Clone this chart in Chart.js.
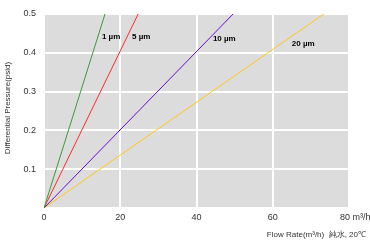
<!DOCTYPE html>
<html>
<head>
<meta charset="utf-8">
<script src="https://cdn.jsdelivr.net/npm/chart.js@4/dist/chart.umd.min.js"></script>
<style>
  html, body { margin: 0; padding: 0; background: #fff; }
  #wrap { width: 370px; height: 245px; }
</style>
</head>
<body>
<div id="wrap"><canvas id="chart" width="370" height="245"></canvas></div>
<script>
// filter curves: flow rate (m3/h) vs differential pressure (psid)
const seriesNames = ["1 µm", "5 µm", "10 µm", "20 µm"];
const seriesColors = ["#3c9a3c", "#ff2a2a", "#6a0acc", "#ffc61a"];
const flow1 = [0, 16];
const flow5 = [0, 24.7];
const flow10 = [0, 49.6];
const flow20 = [0, 73.4];
const pressure = [0, 0.5];
const xTicks = [0, 20, 40, 60, 80];
const yTicks = [0.1, 0.2, 0.3, 0.4, 0.5];
// where each curve's label sits (flow, pressure)
const labelFlow = [15.2, 23.1, 44.3, 65.0];
const labelPressure = [0.441, 0.441, 0.436, 0.423];
const xTitle = "Flow Rate(m³/h)  純水, 20℃";
const yTitle = "Differential Pressure(psid)";
const lastTickText = "80 m³/h";

const flows = [flow1, flow5, flow10, flow20];
const FONT = "'Liberation Sans', Arial, sans-serif";

const datasets = flows.map((f, i) => ({
  label: seriesNames[i],
  data: f.map((x, j) => ({ x: x, y: pressure[j] })),
  borderColor: seriesColors[i],
  borderWidth: 1,
  pointRadius: 0,
  showLine: true,
  fill: false
}));

const plotBg = {
  id: "plotBg",
  beforeDraw(chart) {
    const { ctx, chartArea: a } = chart;
    ctx.save();
    ctx.fillStyle = "#dcdcdc";
    ctx.fillRect(a.left, a.top, a.right - a.left, a.bottom - a.top);
    ctx.restore();
  },
  afterDraw(chart) {
    const ctx = chart.ctx;
    const xs = chart.scales.x, ys = chart.scales.y;
    ctx.save();
    ctx.font = "bold 8px " + FONT;
    ctx.fillStyle = "#000";
    ctx.textBaseline = "middle";
    seriesNames.forEach((n, i) => {
      ctx.fillText(n, xs.getPixelForValue(labelFlow[i]), ys.getPixelForValue(labelPressure[i]));
    });
    // last x tick carries the unit, left aligned just before the axis end
    ctx.font = "9px " + FONT;
    ctx.fillStyle = "#333";
    ctx.fillText(lastTickText, xs.getPixelForValue(80) - 9, 218);
    // axis titles
    ctx.font = "8px " + FONT;
    ctx.textAlign = "right";
    ctx.fillText(xTitle, 366, 235);
    ctx.translate(8, 108);
    ctx.rotate(-Math.PI / 2);
    ctx.textAlign = "center";
    ctx.fillText(yTitle, 0, 0);
    ctx.restore();
  }
};

new Chart(document.getElementById("chart"), {
  type: "scatter",
  data: { datasets: datasets },
  options: {
    responsive: false,
    animation: false,
    layout: { padding: { top: 14, right: 21, left: 0, bottom: 0 } },
    plugins: {
      legend: { display: false },
      tooltip: { enabled: false }
    },
    scales: {
      x: {
        type: "linear",
        min: 0,
        max: 80,
        afterBuildTicks: (s) => { s.ticks = xTicks.map(v => ({ value: v })); },
        afterFit: (s) => { s.height = 37; },
        grid: { color: "#ffffff", lineWidth: 2, drawTicks: false },
        border: { display: false },
        ticks: {
          color: "#333",
          padding: 4,
          maxRotation: 0,
          callback: (v) => v === 80 ? "" : String(v),
          font: { size: 9, family: FONT }
        }
      },
      y: {
        type: "linear",
        min: 0,
        max: 0.5,
        afterBuildTicks: (s) => { s.ticks = [0].concat(yTicks).map(v => ({ value: v })); },
        afterFit: (s) => { s.width = 44; },
        grid: { color: "#ffffff", lineWidth: 2, drawTicks: false },
        border: { display: false },
        ticks: {
          color: "#333",
          padding: 8,
          callback: (v) => v === 0 ? "" : v.toFixed(1),
          font: { size: 9, family: FONT }
        }
      }
    }
  },
  plugins: [plotBg]
});
</script>
</body>
</html>
